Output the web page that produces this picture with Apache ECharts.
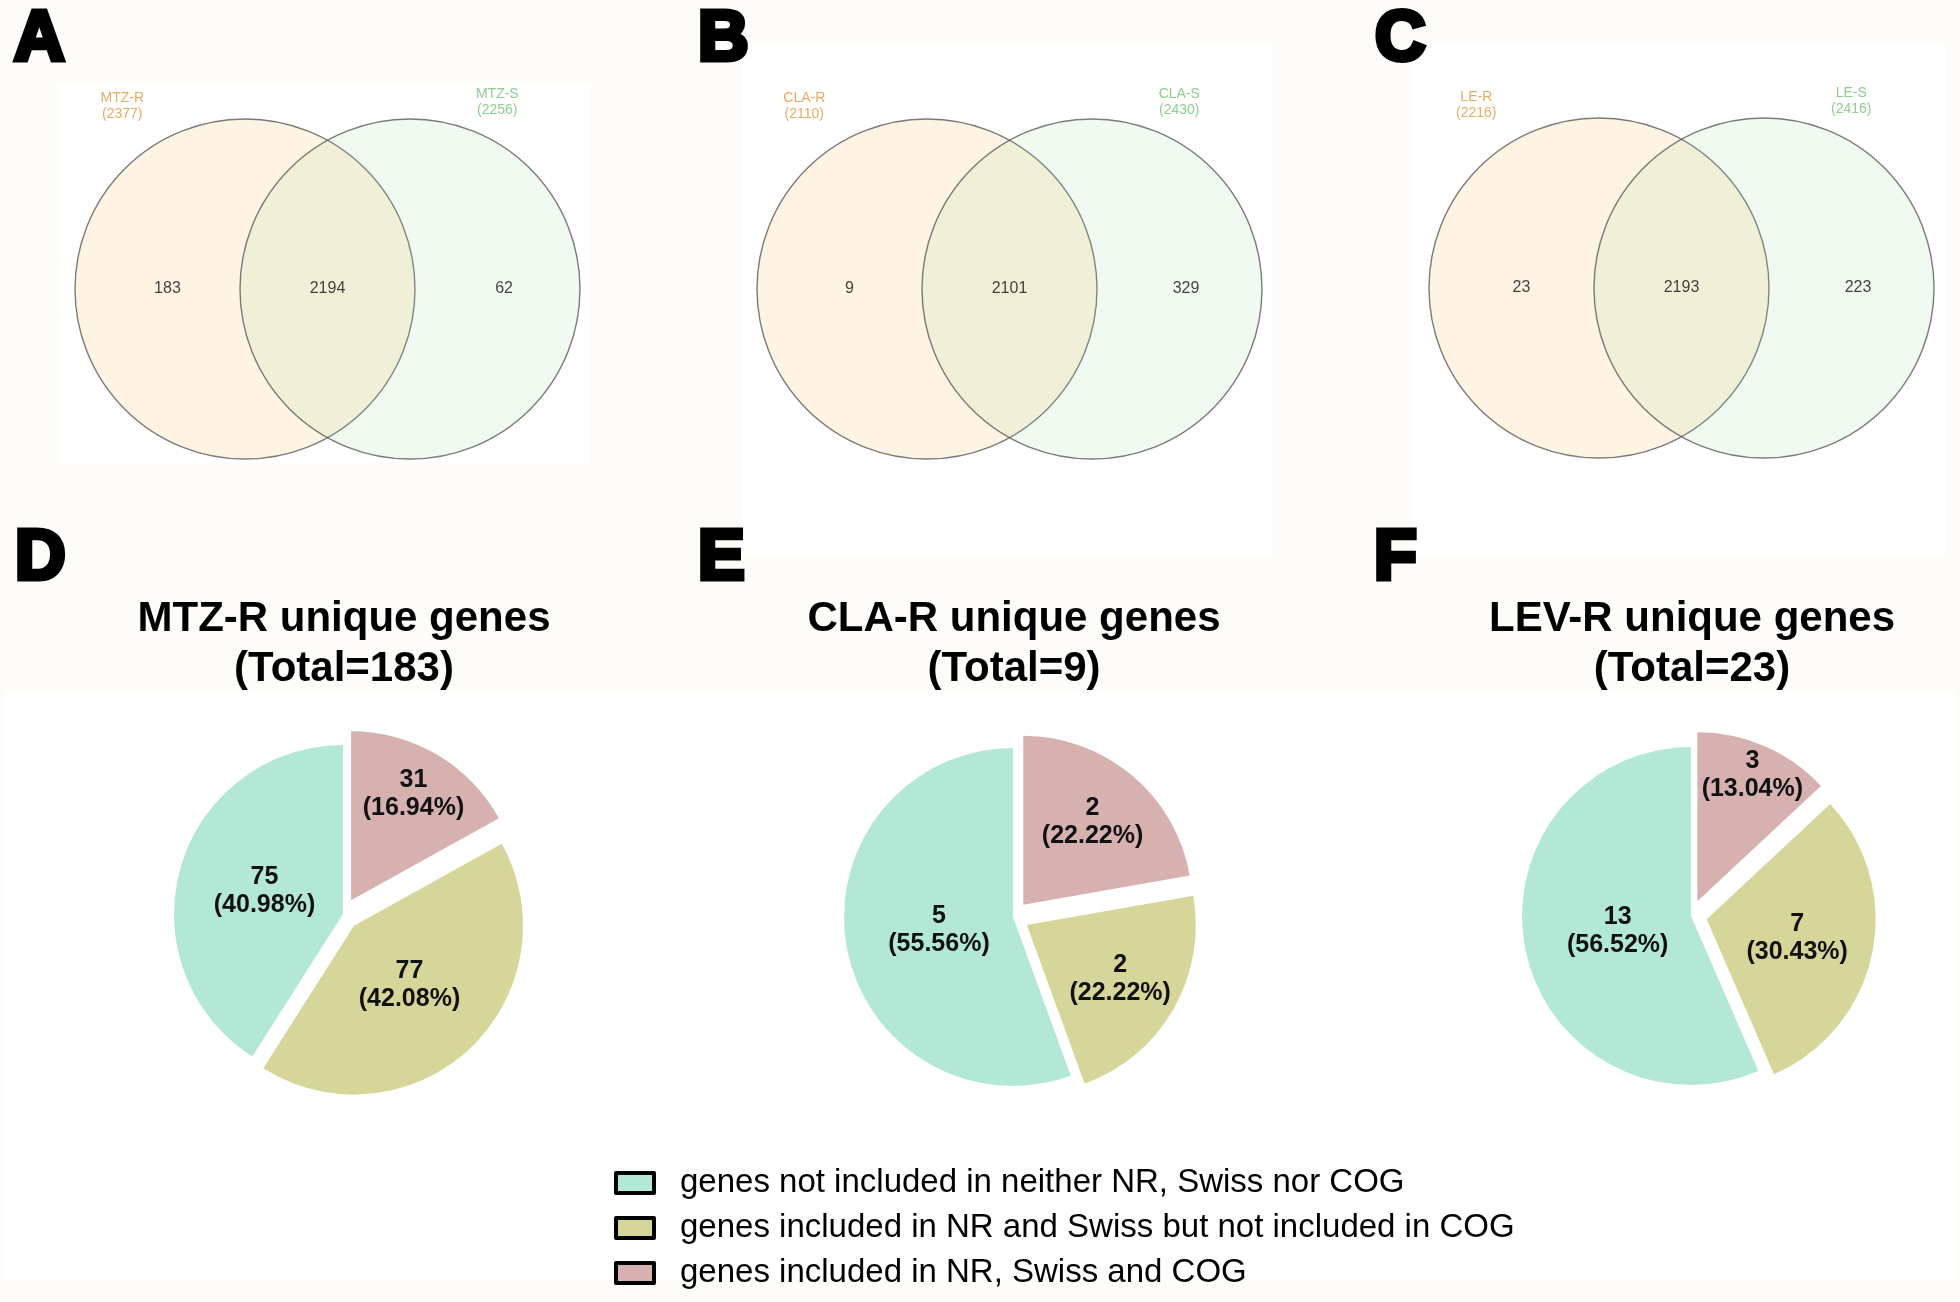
<!DOCTYPE html>
<html>
<head>
<meta charset="utf-8">
<script src="https://cdn.jsdelivr.net/npm/echarts@6/dist/echarts.min.js"></script>
<style>
html,body{margin:0;padding:0;background:#fdfcf9;}
#chart{width:1960px;height:1302px;}
</style>
</head>
<body>
<div id="chart"></div>
<script>
// ---------------- DATA ----------------
const panelLetters = ['A', 'B', 'C', 'D', 'E', 'F'];

// Venn diagrams (A, B, C)
const vennSetR = ['MTZ-R', 'CLA-R', 'LE-R'];
const vennSetS = ['MTZ-S', 'CLA-S', 'LE-S'];
const vennOnlyR = [183, 9, 23];
const vennBoth = [2194, 2101, 2193];
const vennOnlyS = [62, 329, 223];

// Pie charts (D, E, F)
const pieCategories = [
  'genes not included in neither NR, Swiss nor COG',
  'genes included in NR and Swiss but not included in COG',
  'genes included in NR, Swiss and COG'
];
const pieNames = ['MTZ-R', 'CLA-R', 'LEV-R'];
const pieMTZ = [75, 77, 31];
const pieCLA = [5, 2, 2];
const pieLEV = [13, 7, 3];
const pieValues = [pieMTZ, pieCLA, pieLEV];

// ---------------- STYLE / LAYOUT ----------------
const FONT = '"Liberation Sans", Arial, Helvetica, sans-serif';
const pieColors = ['#b3e8d7', '#d6d69b', '#d7b0b0'];
const pieExplode = [false, true, true];
const pieOffset = 16;
const vennFillR = 'rgba(255,200,120,0.25)';
const vennFillS = 'rgba(150,220,150,0.18)';
const vennTextR = '#e2973a';
const vennTextS = '#72c072';
const vennCenters = [[245, 289], [927, 289], [1599, 288]]; // centre of the R circle
const vennSep = 165;       // px between the two circle centres (1 unit on x)
const vennDiameter = 340;
const vennRegionX = [-0.47, 0.5, 1.57]; // label anchor for R-only, both, S-only regions
const pieCenters = [[343, 914], [1013, 917], [1691, 916]];
const pieRadius = 169;
const letterPos = [[14, 6], [698, 6], [1375, 6], [15, 525], [698, 525], [1374, 525]];

// ---------------- BUILD OPTION ----------------
const grids = [], xAxes = [], yAxes = [], series = [], titles = [];

panelLetters.forEach((L, i) => {
  titles.push({
    text: L, left: letterPos[i][0], top: letterPos[i][1], padding: 0,
    textStyle: {fontFamily: FONT, fontSize: 70, lineHeight: 70, fontWeight: 'bold', color: '#000',
      textBorderColor: '#000', textBorderWidth: 5}
  });
});

vennSetR.forEach((rName, i) => {
  const [cx, cy] = vennCenters[i];
  grids.push({left: cx - vennSep, top: cy - 100, width: vennSep * 3, height: 200, show: false});
  xAxes.push({gridIndex: i, type: 'value', min: -1, max: 2, show: false});
  yAxes.push({gridIndex: i, type: 'value', min: -1, max: 1, show: false});
  const totR = vennOnlyR[i] + vennBoth[i];
  const totS = vennOnlyS[i] + vennBoth[i];
  series.push({
    type: 'scatter', xAxisIndex: i, yAxisIndex: i, clip: false, silent: true,
    symbol: 'circle', symbolSize: vennDiameter, z: 2,
    itemStyle: {borderColor: '#5a5a5a', borderWidth: 1.4},
    label: {show: true, fontFamily: FONT, fontSize: 14, lineHeight: 16, align: 'center', verticalAlign: 'middle',
      formatter: p => p.name + '\n(' + p.data.total + ')'},
    data: [
      {name: rName, value: [0, 0], total: totR, itemStyle: {color: vennFillR},
        label: {position: [48, -12], color: vennTextR}},
      {name: vennSetS[i], value: [1, 0], total: totS, itemStyle: {color: vennFillS},
        label: {position: [258, -16], color: vennTextS}}
    ]
  });
  const counts = [vennOnlyR[i], vennBoth[i], vennOnlyS[i]];
  series.push({
    type: 'scatter', xAxisIndex: i, yAxisIndex: i, clip: false, silent: true,
    symbol: 'circle', symbolSize: 1, z: 3, itemStyle: {color: 'transparent'},
    label: {show: true, position: 'inside', fontFamily: FONT, fontSize: 16, color: '#111',
      formatter: p => String(p.value[2])},
    data: counts.map((c, k) => [vennRegionX[k], 0, c])
  });
});

const pieSeriesStart = series.length;
pieValues.forEach((vals, i) => {
  const total = vals.reduce((a, b) => a + b, 0);
  titles.push({
    text: pieNames[i] + ' unique genes\n(Total=' + total + ')',
    left: pieCenters[i][0] + 1, top: 594, textAlign: 'center', padding: 0,
    textStyle: {fontFamily: FONT, fontSize: 42, lineHeight: 50, fontWeight: 'bold', color: '#000'}
  });
  series.push({
    type: 'pie', name: pieNames[i], center: pieCenters[i], radius: [0, pieRadius],
    clockwise: false, startAngle: 90, selectedMode: 'multiple', selectedOffset: pieOffset,
    silent: true, emphasis: {disabled: true},
    labelLine: {show: false},
    label: {show: true, position: 'inside', fontFamily: FONT, fontSize: 25, lineHeight: 28,
      fontWeight: 'bold', color: '#111',
      formatter: p => p.value + '\n(' + (p.value / total * 100).toFixed(2) + '%)'},
    labelLayout: function (params) {
      const si = params.seriesIndex - pieSeriesStart;
      const v = pieValues[si];
      const tot = v.reduce((a, b) => a + b, 0);
      const k = params.dataIndex;
      let cum = 0;
      for (let j = 0; j < k; j++) cum += v[j];
      const span = v[k] / tot * 360;
      const mid = (90 + cum / tot * 360 + span / 2) * Math.PI / 180;
      // smaller slices carry their labels further out (explode offset is added by the library)
      const frac = 0.42 + 0.45 * Math.exp(-(span - 40) / 55);
      const d = frac * pieRadius;
      const c = pieCenters[si];
      const tx = c[0] + d * Math.cos(mid), ty = c[1] - d * Math.sin(mid);
      const r = params.labelRect;
      return {dx: tx - (r.x + r.width / 2), dy: ty - (r.y + r.height / 2)};
    },
    data: vals.map((v, k) => ({name: pieCategories[k], value: v, selected: pieExplode[k],
      itemStyle: {color: pieColors[k]}}))
  });
});

const option = {
  animation: false,
  backgroundColor: '#fdfcf9',
  textStyle: {fontFamily: FONT},
  title: titles,
  grid: grids,
  xAxis: xAxes,
  yAxis: yAxes,
  graphic: [
    {type: 'rect', z: -10, silent: true, shape: {x: 59, y: 85, width: 531, height: 378}, style: {fill: '#ffffff'}},
    {type: 'rect', z: -10, silent: true, shape: {x: 742, y: 45, width: 531, height: 509}, style: {fill: '#ffffff'}},
    {type: 'rect', z: -10, silent: true, shape: {x: 1413, y: 43, width: 533, height: 511}, style: {fill: '#ffffff'}},
    {type: 'rect', z: -10, silent: true, shape: {x: 5, y: 692, width: 1950, height: 588}, style: {fill: '#ffffff'}}
  ],
  legend: {
    orient: 'vertical', left: 614, top: 1165, itemWidth: 38, itemHeight: 20, itemGap: 9,
    icon: 'rect', selectedMode: false, padding: 0,
    itemStyle: {borderColor: '#000', borderWidth: 4},
    textStyle: {fontFamily: FONT, fontSize: 33, lineHeight: 36, color: '#000', padding: [0, 0, 0, 21]},
    data: pieCategories
  },
  series: series
};

const chart = echarts.init(document.getElementById('chart'), null, {renderer: 'canvas'});
chart.setOption(option);
</script>
</body>
</html>
